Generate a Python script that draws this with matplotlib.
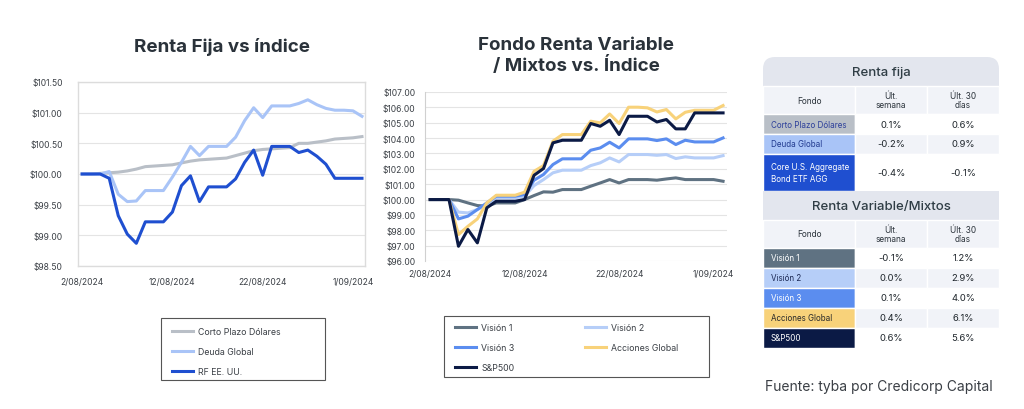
import matplotlib
matplotlib.use("Agg")
import matplotlib.pyplot as plt
from matplotlib.patches import Rectangle, FancyBboxPatch
import numpy as np
import pandas as pd

plt.rcParams["font.family"] = ["Inter", "DejaVu Sans"]

# fechas diarias 2/08/2024 - 2/09/2024
fechas = pd.date_range("2024-08-02", periods=32, freq="D")
tick_fechas = ["2024-08-02", "2024-08-12", "2024-08-22", "2024-09-01"]
tick_labels = ["2/08/2024", "12/08/2024", "22/08/2024", "1/09/2024"]

# Renta fija
corto_plazo = [100.00, 100.00, 100.01, 100.02, 100.03, 100.05, 100.08, 100.12,
               100.13, 100.14, 100.15, 100.18, 100.21, 100.23, 100.24, 100.25,
               100.26, 100.30, 100.34, 100.38, 100.40, 100.41, 100.42, 100.43,
               100.50, 100.50, 100.52, 100.54, 100.57, 100.58, 100.59, 100.61]
deuda_global = [100.00, 100.00, 100.00, 100.04, 99.67, 99.55, 99.56, 99.73,
                99.73, 99.73, 99.95, 100.19, 100.45, 100.30, 100.45, 100.45,
                100.45, 100.60, 100.87, 101.08, 100.92, 101.11, 101.11, 101.11,
                101.15, 101.21, 101.13, 101.07, 101.04, 101.04, 101.03, 100.94]
rf_eeuu = [100.00, 100.00, 100.00, 99.93, 99.32, 99.02, 98.87, 99.22,
           99.22, 99.22, 99.38, 99.81, 99.97, 99.55, 99.79, 99.79,
           99.79, 99.92, 100.19, 100.39, 99.98, 100.45, 100.45, 100.45,
           100.35, 100.39, 100.29, 100.16, 99.93, 99.93, 99.93, 99.93]

# Renta variable / mixtos
vision1 = [100.00, 100.00, 100.00, 99.96, 99.78, 99.61, 99.57, 99.78,
           99.78, 99.78, 100.00, 100.26, 100.50, 100.48, 100.65, 100.65,
           100.65, 100.87, 101.08, 101.30, 101.08, 101.30, 101.30, 101.30,
           101.26, 101.34, 101.41, 101.30, 101.30, 101.30, 101.30, 101.19]
vision2 = [100.00, 100.00, 100.00, 99.18, 99.13, 99.35, 99.67, 100.11,
           100.11, 100.11, 100.22, 100.91, 101.30, 101.74, 101.91, 101.91,
           101.91, 102.21, 102.39, 102.71, 102.45, 102.93, 102.93, 102.93,
           102.88, 102.93, 102.67, 102.78, 102.71, 102.71, 102.71, 102.86]
vision3 = [100.00, 100.00, 100.00, 98.74, 98.92, 99.35, 99.78, 100.22,
           100.22, 100.22, 100.33, 101.26, 101.63, 102.28, 102.65, 102.65,
           102.65, 103.21, 103.36, 103.73, 103.36, 103.95, 103.95, 103.95,
           103.84, 103.95, 103.58, 103.86, 103.75, 103.75, 103.75, 104.01]
acciones_global = [100.00, 100.00, 100.00, 97.72, 98.26, 98.74, 99.78, 100.28,
                   100.28, 100.28, 100.48, 101.84, 102.21, 103.80, 104.23, 104.23,
                   104.23, 105.10, 104.99, 105.57, 104.95, 106.01, 106.01, 105.97,
                   105.70, 105.86, 105.25, 105.68, 105.81, 105.81, 105.81, 106.12]
sp500 = [100.00, 100.00, 100.00, 96.96, 98.05, 97.18, 99.46, 99.89,
         99.89, 99.89, 100.00, 101.58, 102.02, 103.69, 103.86, 103.86,
         103.86, 104.95, 104.77, 105.16, 104.23, 105.42, 105.42, 105.42,
         105.05, 105.21, 104.60, 104.60, 105.64, 105.64, 105.64, 105.64]

# tabla
rf_fondos = ["Corto Plazo Dólares", "Deuda Global", "Core U.S. Aggregate\nBond ETF AGG"]
rf_semana = ["0.1%", "-0.2%", "-0.4%"]
rf_30dias = ["0.6%", "0.9%", "-0.1%"]
rv_fondos = ["Visión 1", "Visión 2", "Visión 3", "Acciones Global", "S&P500"]
rv_semana = ["-0.1%", "0.0%", "0.1%", "0.4%", "0.6%"]
rv_30dias = ["1.2%", "2.9%", "4.0%", "6.1%", "5.6%"]

c_corto, c_deuda, c_rf = "#b9bfc7", "#a9c4f7", "#1f4fd0"
c_v1, c_v2, c_v3, c_acc, c_sp = "#5f7282", "#b6cef8", "#5b8def", "#f8d27a", "#0b1a45"
txt_dark = "#2a323a"
grid_c = "#e4e4e4"

W, H = 1024, 410
fig = plt.figure(figsize=(W / 100, H / 100), dpi=100)


def px_axes(x0, y0, x1, y1):
    return fig.add_axes([x0 / W, 1 - y1 / H, (x1 - x0) / W, (y1 - y0) / H])


def style_dates(ax, ypad, xpad):
    ax.set_xticks(pd.to_datetime(tick_fechas))
    ax.set_xticklabels(tick_labels)
    ax.tick_params(axis="both", length=0, labelsize=6.1, colors="#3a3f45")
    ax.tick_params(axis="y", pad=ypad)
    ax.tick_params(axis="x", pad=xpad)
    ax.grid(axis="y", color=grid_c, lw=0.8)
    ax.set_axisbelow(True)


leg_kw = dict(loc="upper left", fontsize=6.3, frameon=False, borderpad=0,
              handlelength=2.45, handletextpad=0.55, labelspacing=1.25,
              labelcolor="#3a3f45", borderaxespad=0)

# --- grafico 1 ---
ax1 = px_axes(78, 83, 365, 267)
ax1.plot(fechas, corto_plazo, color=c_corto, lw=2.2, label="Corto Plazo Dólares")
ax1.plot(fechas, deuda_global, color=c_deuda, lw=2.2, label="Deuda Global")
ax1.plot(fechas, rf_eeuu, color=c_rf, lw=2.2, label="RF EE. UU.")
ax1.set_ylim(98.5, 101.5)
ax1.set_yticks(np.arange(98.5, 101.51, 0.5))
ax1.set_yticklabels([f"${v:,.2f}" for v in np.arange(98.5, 101.51, 0.5)])
ax1.set_xlim(fechas[0] - pd.Timedelta(hours=11), fechas[-1] + pd.Timedelta(hours=8))
style_dates(ax1, ypad=11, xpad=8)
for s in ax1.spines.values():
    s.set_color("#dcdcdc")
    s.set_linewidth(1)
ax1.set_title("Renta Fija vs índice", fontsize=13.5, fontweight="bold",
              color=txt_dark, pad=22)

fig.legend(*ax1.get_legend_handles_labels(),
           bbox_to_anchor=(172 / W, 1 - 328 / H), **leg_kw)

# --- grafico 2 ---
ax2 = px_axes(425, 93, 727, 262)
ax2.plot(fechas, vision1, color=c_v1, lw=2.2, label="Visión 1")
ax2.plot(fechas, vision2, color=c_v2, lw=2.2, label="Visión 2")
ax2.plot(fechas, vision3, color=c_v3, lw=2.2, label="Visión 3")
ax2.plot(fechas, acciones_global, color=c_acc, lw=2.2, label="Acciones Global")
ax2.plot(fechas, sp500, color=c_sp, lw=2.2, label="S&P500")
ax2.set_ylim(96, 107)
ax2.set_yticks(np.arange(96, 107.1, 1))
ax2.set_yticklabels([f"${v:,.2f}" for v in np.arange(96, 107.1, 1)])
ax2.set_xlim(fechas[0] - pd.Timedelta(hours=13), fechas[-1] + pd.Timedelta(hours=10))
style_dates(ax2, ypad=7, xpad=6)
for k in ["top", "right", "bottom"]:
    ax2.spines[k].set_visible(False)
ax2.spines["left"].set_color("#d0d0d0")
ax2.set_title("Fondo Renta Variable\n/ Mixtos vs. Índice", fontsize=13.5,
              fontweight="bold", color=txt_dark, pad=16, linespacing=1.15)

h, l = ax2.get_legend_handles_labels()
orden = [0, 2, 4, 1, 3]
fig.legend([h[i] for i in orden], [l[i] for i in orden], ncol=2,
           columnspacing=8.0, bbox_to_anchor=(455 / W, 1 - 324 / H), **leg_kw)

# --- tabla y marcos ---
tab = fig.add_axes([0, 0, 1, 1], zorder=5)
tab.set_xlim(0, W)
tab.set_ylim(H, 0)
tab.axis("off")

# marcos de leyenda
for (x0, y0, x1, y1) in [(161, 319, 325, 381), (444, 317, 709, 378)]:
    tab.add_patch(Rectangle((x0, y0), x1 - x0, y1 - y0, fc="none",
                            ec="#555555", lw=0.8))

xs = [763, 855, 927, 999]
head_bg, sub_bg, alt_bg = "#e3e6ee", "#f1f3f8", "#f1f3f8"

tab.add_patch(FancyBboxPatch((xs[0], 58), xs[3] - xs[0], 40,
                             boxstyle="round,pad=0,rounding_size=12",
                             fc=head_bg, ec="none"))


def cell(x0, x1, y0, y1, fc):
    tab.add_patch(Rectangle((x0, y0), x1 - x0, y1 - y0, fc=fc, ec="white", lw=1))


def bloque(titulo, y0, fondos, semana, mes, colores, txtcol, alturas):
    tab.add_patch(Rectangle((xs[0], y0 + 12), xs[3] - xs[0], 17, fc=head_bg, ec="none"))
    if y0 > 60:
        tab.add_patch(Rectangle((xs[0], y0), xs[3] - xs[0], 29, fc=head_bg, ec="none"))
    tab.text((xs[0] + xs[3]) / 2, y0 + 15, titulo, ha="center", va="center",
             fontsize=9.5, color="#2f3d45", fontweight="medium")
    y = y0 + 29
    for i, etiqueta in enumerate(["Fondo", "Últ.\nsemana", "Últ. 30\ndías"]):
        cell(xs[i], xs[i + 1], y, y + 28, sub_bg)
        tab.text((xs[i] + xs[i + 1]) / 2, y + 14, etiqueta, ha="center",
                 va="center", fontsize=6, color="#2a323a", linespacing=1.1)
    y += 28
    for j, nombre in enumerate(fondos):
        hgt = alturas[j]
        bg = "white" if j % 2 == 0 else alt_bg
        cell(xs[0], xs[1], y, y + hgt, colores[j])
        cell(xs[1], xs[2], y, y + hgt, bg)
        cell(xs[2], xs[3], y, y + hgt, bg)
        tab.text(xs[0] + 8, y + hgt / 2, nombre, ha="left", va="center",
                 fontsize=5.8, color=txtcol[j], linespacing=1.35)
        tab.text((xs[1] + xs[2]) / 2, y + hgt / 2, semana[j], ha="center",
                 va="center", fontsize=6.8, color="#1e252b")
        tab.text((xs[2] + xs[3]) / 2, y + hgt / 2, mes[j], ha="center",
                 va="center", fontsize=6.8, color="#1e252b")
        y += hgt
    return y


y_fin = bloque("Renta fija", 58, rf_fondos, rf_semana, rf_30dias,
               [c_corto, c_deuda, c_rf], ["#2c3f9a", "#213a8f", "white"],
               [20, 20, 37])
bloque("Renta Variable/Mixtos", y_fin, rv_fondos, rv_semana, rv_30dias,
       [c_v1, c_v2, c_v3, c_acc, c_sp],
       ["white", "#1d2a55", "white", "#2a2a2a", "white"],
       [20, 20, 20, 20, 20])

tab.text(765, 387, "Fuente: tyba por Credicorp Capital", ha="left", va="center",
         fontsize=10, color="#3a3f45")

fig.savefig("out.png", dpi=100)
